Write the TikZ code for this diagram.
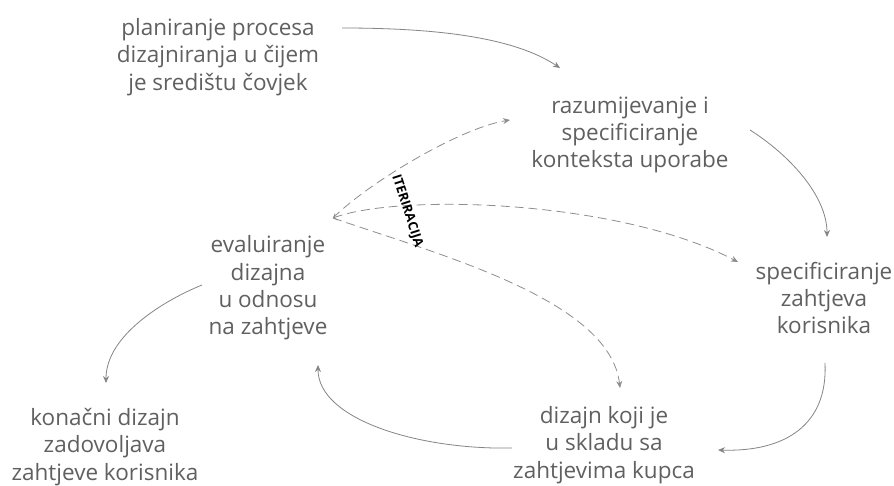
\documentclass[tikz,border=0pt]{standalone}
\usepackage{fontspec}
\setmainfont{Open Sans}
\usetikzlibrary{arrows.meta}
\definecolor{txtgray}{HTML}{606060}
\definecolor{linegray}{HTML}{858585}
\definecolor{dashgray}{HTML}{8E8E8E}
\tikzset{
  txt/.style={align=center, text=txtgray, inner sep=0pt,
    font=\fontsize{22.5}{27.3}\selectfont},
  flow/.style={draw=linegray, line width=0.8pt,
    -{Stealth[length=7pt,width=6pt]}},
  iter/.style={draw=dashgray, line width=0.8pt, dash pattern=on 9pt off 5pt,
    -{Stealth[length=7pt,width=6pt]}},
  lbl/.style={font=\fontsize{13}{14}\selectfont\bfseries, text=black, inner sep=0pt}
}
\begin{document}
\begin{tikzpicture}[x=1pt,y=-1pt]
\useasboundingbox (0,0) rectangle (894,486);
\fill[white] (0,0) rectangle (894,486);

% nodes
\node[txt] (A) at (218,57) {planiranje procesa\\dizajniranja u čijem\\je središtu čovjek};
\node[txt] (B) at (630,135) {razumijevanje i\\specificiranje\\konteksta uporabe};
\node[txt] (C) at (824,298) {specificiranje\\zahtjeva\\korisnika};
\node[txt] (D) at (604,445) {dizajn koji je\\u skladu sa\\zahtjevima kupca};
\node[txt] (E) at (268,288) {evaluiranje\\dizajna\\u odnosu\\na zahtjeve};
\node[txt] (F) at (105,447) {konačni dizajn\\zadovoljava\\zahtjeve korisnika};

% connector end points
\coordinate (a1) at (342,28);
\coordinate (b0) at (560,68);
\coordinate (b1) at (750,130);
\coordinate (c0) at (827,237);
\coordinate (c1) at (825,363);
\coordinate (d0) at (718,450);
\coordinate (d1) at (512,448);
\coordinate (e0) at (318,365);
\coordinate (e1) at (202,285);
\coordinate (f0) at (106,383);
\coordinate (it) at (333,218);
\coordinate (bi) at (510,120);
\coordinate (ci) at (738,262);
\coordinate (di) at (620,388);

% main cycle
\draw[flow] (a1) .. controls (440,28) and (515,38) .. (b0);
\draw[flow] (b1) .. controls (788,154) and (827,195) .. (c0);
\draw[flow] (c1) .. controls (828,425) and (785,452) .. (d0);
\draw[flow] (d1) .. controls (420,450) and (318,420) .. (e0);
\draw[flow] (e1) .. controls (165,300) and (106,335) .. (f0);

% iteration
\draw[iter] (it) .. controls (368,183) and (460,128) .. (bi);
\draw[iter, {Straight Barb[length=3pt,width=7pt]}-{Stealth[length=7pt,width=6pt]}] (it) .. controls (400,193) and (620,200) .. (ci);
\draw[iter] (it) .. controls (440,255) and (610,300) .. (di);

\node[lbl, rotate=-72] (L) at (407,211) {ITERIRACIJA};
\end{tikzpicture}
\end{document}
